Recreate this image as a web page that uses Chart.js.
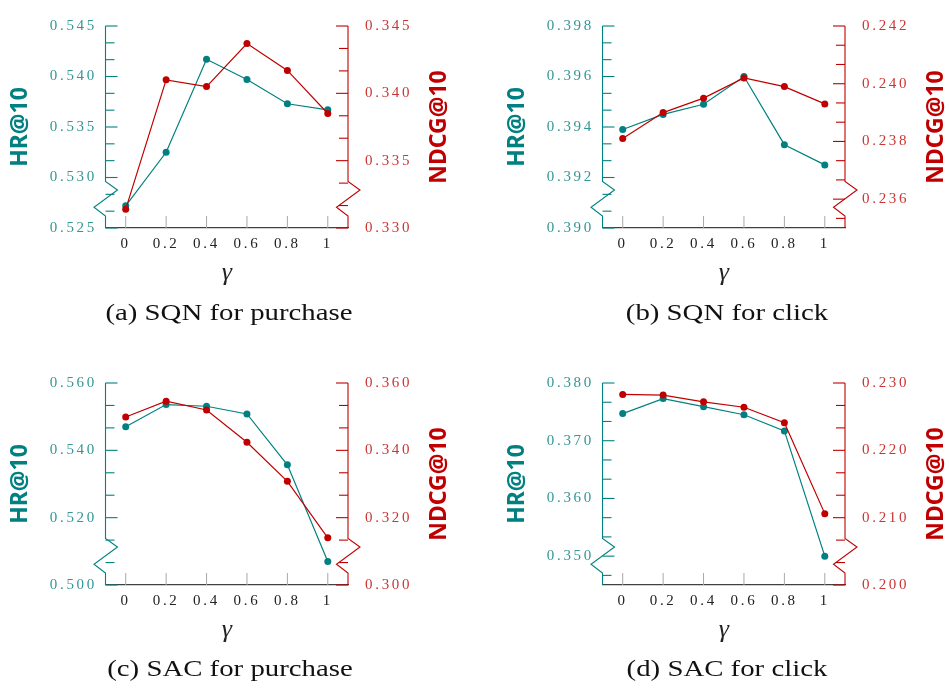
<!DOCTYPE html>
<html>
<head>
<meta charset="utf-8">
<script src="https://cdn.jsdelivr.net/npm/chart.js@4.4.1/dist/chart.umd.min.js"></script>
<style>
body { margin: 0; background: #fff; width: 949px; height: 688px; overflow: hidden; position: relative; }
canvas { position: absolute; }
.cap { position: absolute; width: 400px; text-align: center; font: 24px "Liberation Serif", serif;
       line-height: 24px; transform: scaleX(1.2); color: #111; white-space: nowrap; }
</style>
</head>
<body>
<canvas id="pa" width="452" height="300" style="left:0;top:0"></canvas>
<canvas id="pb" width="452" height="300" style="left:497px;top:0"></canvas>
<canvas id="pc" width="452" height="300" style="left:0;top:356.5px"></canvas>
<canvas id="pd" width="452" height="300" style="left:497px;top:356.5px"></canvas>
<div class="cap" style="left:29px;top:300.4px">(a) SQN for purchase</div>
<div class="cap" style="left:526.5px;top:300.4px">(b) SQN for click</div>
<div class="cap" style="left:29.5px;top:656px">(c) SAC for purchase</div>
<div class="cap" style="left:526.5px;top:656px">(d) SAC for click</div>
<script>
const gammas = [0, 0.2, 0.4, 0.6, 0.8, 1];
const gammaLabels = ['0', '0.2', '0.4', '0.6', '0.8', '1'];

// values
const sqnPurchaseHR   = [0.5272, 0.5325, 0.5417, 0.5397, 0.5373, 0.5367];
const sqnPurchaseNDCG = [0.3314, 0.3410, 0.3405, 0.3437, 0.3417, 0.3385];
const sqnClickHR      = [0.3939, 0.3945, 0.3949, 0.3960, 0.3933, 0.3925];
const sqnClickNDCG    = [0.2381, 0.2390, 0.2395, 0.2402, 0.2399, 0.2393];
const sacPurchaseHR   = [0.5470, 0.5536, 0.5531, 0.5508, 0.5357, 0.5070];
const sacPurchaseNDCG = [0.3499, 0.3546, 0.3520, 0.3424, 0.3308, 0.3140];
const sacClickHR      = [0.3747, 0.3773, 0.3759, 0.3745, 0.3717, 0.3500];
const sacClickNDCG    = [0.2283, 0.2282, 0.2272, 0.2264, 0.2241, 0.2106];

// labelled ticks on each axis
const sqnPurchaseHRTicks   = [0.525, 0.530, 0.535, 0.540, 0.545];
const sqnPurchaseNDCGTicks = [0.330, 0.335, 0.340, 0.345];
const sqnClickHRTicks      = [0.390, 0.392, 0.394, 0.396, 0.398];
const sqnClickNDCGTicks    = [0.236, 0.238, 0.240, 0.242];
const sacPurchaseHRTicks   = [0.500, 0.520, 0.540, 0.560];
const sacPurchaseNDCGTicks = [0.300, 0.320, 0.340, 0.360];
const sacClickHRTicks      = [0.350, 0.360, 0.370, 0.380];
const sacClickNDCGTicks    = [0.200, 0.210, 0.220, 0.230];

const TEAL = '#008080', TEAL_LABEL = '#359696';
const RED = '#c00000', RED_LABEL = '#cc3535';
const tickFont = { family: '"Liberation Serif", serif', size: 15 };

// two minor ticks between labelled ones
function minorValues(major, min, max) {
    const step = (major[1] - major[0]) / 3;
    const out = [];
    for (let k = Math.ceil((min - major[0]) / step - 1e-6); major[0] + k * step <= max + 1e-9; k++) {
        if (k % 3 !== 0) out.push(major[0] + k * step);
    }
    return out;
}

const axisDecor = {
    id: 'axisDecor',
    beforeDraw(chart) {
        // spaced-out tick numbers
        Object.values(chart.scales).forEach(s => {
            if (s._spaced) return;
            const orig = s.drawLabels;
            s.drawLabels = function (ca) {
                this.ctx.save();
                this.ctx.letterSpacing = '2.7px';
                orig.call(this, ca);
                this.ctx.restore();
            };
            s._spaced = true;
        });
    },
    beforeDatasetsDraw(chart) {
        const { ctx, chartArea: a, scales } = chart;
        ctx.save();
        ctx.lineWidth = 1;
        ctx.strokeStyle = '#a8a8a8';
        scales.x.ticks.forEach(t => {
            const px = scales.x.getPixelForValue(t.value);
            ctx.beginPath();
            ctx.moveTo(px, a.bottom);
            ctx.lineTo(px, a.bottom - 12);
            ctx.stroke();
        });
        [['y', a.left, 1, TEAL], ['y1', a.right, -1, RED]].forEach(([id, x0, dir, col]) => {
            const s = scales[id];
            const major = s.ticks.map(t => t.value);
            ctx.strokeStyle = col;
            ctx.lineWidth = 1.1;
            const mark = (v, len) => {
                const py = s.getPixelForValue(v);
                ctx.beginPath();
                ctx.moveTo(x0, py);
                ctx.lineTo(x0 + dir * len, py);
                ctx.stroke();
            };
            major.forEach(v => mark(v, 12));
            minorValues(major, s.min, s.max).forEach(v => mark(v, 9));
            ctx.beginPath();
            ctx.moveTo(x0, a.top);
            ctx.lineTo(x0, a.bottom - 46.5);
            ctx.lineTo(x0 + 12, a.bottom - 38);
            ctx.lineTo(x0 - 11.5, a.bottom - 20.7);
            ctx.lineTo(x0, a.bottom - 12);
            ctx.lineTo(x0, a.bottom);
            ctx.stroke();
        });
        ctx.restore();
    },
    afterDraw(chart) {
        const { ctx, chartArea: a, scales } = chart;
        const t = scales.y1.options.title;
        ctx.save();
        ctx.translate(a.right + 91, (a.top + a.bottom) / 2);
        ctx.rotate(-Math.PI / 2);
        ctx.font = 'bold 23px "Noto Sans"';
        ctx.fillStyle = t.color;
        ctx.textAlign = 'center';
        ctx.textBaseline = 'middle';
        ctx.fillText(t.text, 0, 0);
        ctx.restore();
    }
};

function makePanel(id, hr, ndcg, hrTicks, ndcgTicks, hrRange, ndcgRange) {
    const series = (vals) => vals.map((v, i) => ({ x: gammas[i], y: v }));
    new Chart(document.getElementById(id), {
        type: 'line',
        data: {
            datasets: [{
                data: series(ndcg), yAxisID: 'y1', order: 0,
                borderColor: RED, backgroundColor: RED, borderWidth: 1.2,
                pointRadius: 3.5, pointBorderWidth: 0, pointBackgroundColor: RED,
            }, {
                data: series(hr), yAxisID: 'y', order: 1,
                borderColor: TEAL, backgroundColor: TEAL, borderWidth: 1.2,
                pointRadius: 3.5, pointBorderWidth: 0, pointBackgroundColor: TEAL,
            }]
        },
        options: {
            responsive: false,
            animation: false,
            layout: { padding: { top: 10, left: 0, right: 0, bottom: 0 } },
            plugins: { legend: { display: false }, tooltip: { enabled: false } },
            scales: {
                x: {
                    type: 'linear', position: 'bottom', min: -0.1, max: 1.1,
                    afterBuildTicks: s => { s.ticks = gammas.map(v => ({ value: v })); },
                    afterFit: s => { s.height = 72; },
                    grid: { display: false, drawTicks: false },
                    border: { display: true, color: '#404040', width: 1.2 },
                    ticks: { color: '#222', font: tickFont, padding: 7, maxRotation: 0, autoSkip: false,
                             callback: (v, i) => gammaLabels[i] },
                    title: { display: true, text: 'γ', color: '#222',
                             font: { family: '"Liberation Serif", serif', size: 26, style: 'italic' },
                             padding: { top: 0, bottom: 11 } }
                },
                y: {
                    type: 'linear', position: 'left', min: hrRange[0], max: hrRange[1],
                    afterBuildTicks: s => { s.ticks = hrTicks.map(v => ({ value: v })); },
                    afterFit: s => { s.width = 105.5; },
                    grid: { display: false, drawTicks: false },
                    border: { display: false },
                    ticks: { color: TEAL_LABEL, font: tickFont, padding: 8.5, callback: v => v.toFixed(3) },
                    title: { display: true, text: 'HR@10', color: TEAL,
                             font: { family: '"Noto Sans"', size: 23, weight: 'bold' },
                             padding: { top: 7, bottom: 0 } }
                },
                y1: {
                    type: 'linear', position: 'right', min: ndcgRange[0], max: ndcgRange[1],
                    afterBuildTicks: s => { s.ticks = ndcgTicks.map(v => ({ value: v })); },
                    afterFit: s => { s.width = 104; },
                    grid: { display: false, drawTicks: false },
                    border: { display: false },
                    ticks: { color: RED_LABEL, font: tickFont, padding: 17, callback: v => v.toFixed(3) },
                    title: { display: false, text: 'NDCG@10', color: RED }
                }
            }
        },
        plugins: [axisDecor]
    });
}

makePanel('pa', sqnPurchaseHR, sqnPurchaseNDCG, sqnPurchaseHRTicks, sqnPurchaseNDCGTicks, [0.525, 0.545], [0.330, 0.345]);
makePanel('pb', sqnClickHR, sqnClickNDCG, sqnClickHRTicks, sqnClickNDCGTicks, [0.390, 0.398], [0.235, 0.242]);
makePanel('pc', sacPurchaseHR, sacPurchaseNDCG, sacPurchaseHRTicks, sacPurchaseNDCGTicks, [0.500, 0.560], [0.300, 0.360]);
makePanel('pd', sacClickHR, sacClickNDCG, sacClickHRTicks, sacClickNDCGTicks, [0.345, 0.380], [0.200, 0.230]);
</script>
</body>
</html>
